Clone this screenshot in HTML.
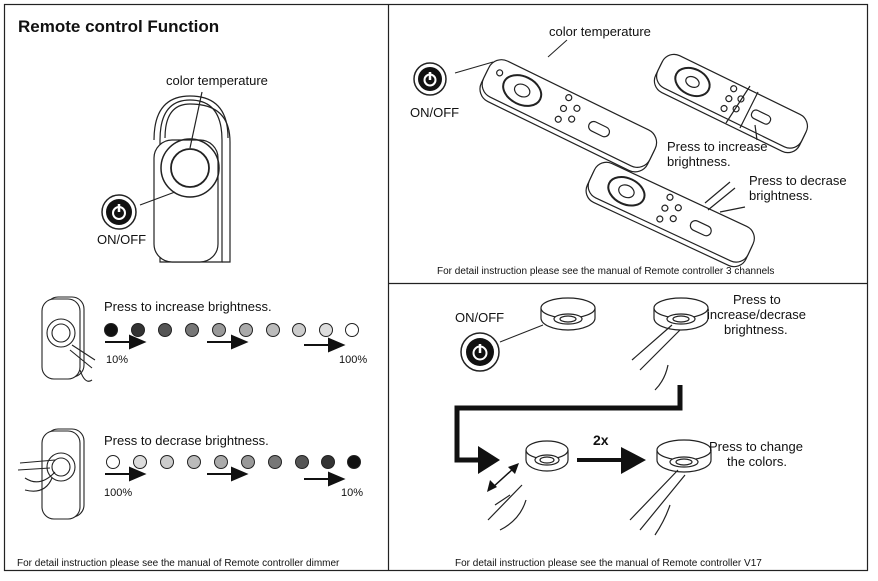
<!DOCTYPE html>
<html><head><meta charset="utf-8"><style>
body{margin:0;background:#fff;width:878px;height:581px;overflow:hidden}
svg{display:block}
text{font-family:"Liberation Sans",Arial,sans-serif;fill:#111}
</style></head><body>
<svg width="878" height="581" viewBox="0 0 878 581">
<rect x="0" y="0" width="878" height="581" fill="#fff"/>
<rect x="4.5" y="4.5" width="863" height="566" fill="none" stroke="#222" stroke-width="1.2"/>
<line x1="388.5" y1="4" x2="388.5" y2="571" stroke="#222" stroke-width="1.2"/>
<line x1="388" y1="283.5" x2="868" y2="283.5" stroke="#222" stroke-width="1.2"/>

<!-- Left top -->
<text x="18" y="32" font-size="17" font-weight="bold">Remote control Function</text>
<text x="166" y="85" font-size="13">color temperature</text>
<g fill="none" stroke="#222" stroke-width="1.2">
<path d="M160 140 Q160 100 190 100 Q222 100 222 140 L222 262 L160 262 Z" fill="#fff"/>
<path d="M165 138 Q165 104 190 104 Q230 104 230 142 L230 262 L222 262"/>
<path d="M154 140 Q154 96 190 96 Q228 96 228 138"/>
<rect x="154" y="140" width="64" height="122" rx="18" fill="#fff"/>
<circle cx="190" cy="168" r="29" stroke-width="1.5"/>
<circle cx="190" cy="168" r="19" stroke-width="1.8"/>
<line x1="202" y1="92" x2="190" y2="148"/>
<line x1="140" y1="205" x2="175" y2="192"/>
</g>
<circle cx="119" cy="212" r="17" fill="#fff" stroke="#222" stroke-width="1.5"/>
<circle cx="119" cy="212" r="13" fill="#111"/>
<circle cx="119" cy="213" r="6" fill="none" stroke="#fff" stroke-width="2"/>
<line x1="119" y1="204" x2="119" y2="212" stroke="#fff" stroke-width="2.5"/>
<text x="97" y="244" font-size="13">ON/OFF</text>

<!-- small remotes -->
<g fill="#fff" stroke="#222" stroke-width="1.1">
<rect x="46" y="297" width="38" height="80" rx="12"/>
<rect x="42" y="299" width="38" height="80" rx="12"/>
<circle cx="61" cy="333" r="14" fill="none"/><circle cx="61" cy="333" r="9" fill="none"/>
<path d="M72 345 L95 360 M70 350 L92 368 M80 370 Q85 385 92 380" fill="none"/>
<rect x="46" y="429" width="38" height="88" rx="12"/>
<rect x="42" y="431" width="38" height="88" rx="12"/>
<circle cx="61" cy="467" r="14" fill="none"/><circle cx="61" cy="467" r="9" fill="none"/>
<path d="M20 463 L55 460 M18 470 L50 468 M25 478 Q40 488 55 472 M25 490 Q45 495 52 478" fill="none"/>
</g>
<text x="104" y="311" font-size="13">Press to increase brightness.</text>
<text x="104" y="445" font-size="13">Press to decrase brightness.</text>
<g stroke="#222" stroke-width="1">
<circle cx="111" cy="330" r="6.5" fill="#111"/><circle cx="138" cy="330" r="6.5" fill="#333"/>
<circle cx="165" cy="330" r="6.5" fill="#555"/><circle cx="192" cy="330" r="6.5" fill="#777"/>
<circle cx="219" cy="330" r="6.5" fill="#999"/><circle cx="246" cy="330" r="6.5" fill="#aaa"/>
<circle cx="273" cy="330" r="6.5" fill="#bbb"/><circle cx="299" cy="330" r="6.5" fill="#ccc"/>
<circle cx="326" cy="330" r="6.5" fill="#ddd"/><circle cx="352" cy="330" r="6.5" fill="#fff"/>
<circle cx="113" cy="462" r="6.5" fill="#fff"/><circle cx="140" cy="462" r="6.5" fill="#ddd"/>
<circle cx="167" cy="462" r="6.5" fill="#ccc"/><circle cx="194" cy="462" r="6.5" fill="#bbb"/>
<circle cx="221" cy="462" r="6.5" fill="#aaa"/><circle cx="248" cy="462" r="6.5" fill="#999"/>
<circle cx="275" cy="462" r="6.5" fill="#777"/><circle cx="302" cy="462" r="6.5" fill="#555"/>
<circle cx="328" cy="462" r="6.5" fill="#333"/><circle cx="354" cy="462" r="6.5" fill="#111"/>
</g>
<g fill="#111" stroke="#111" stroke-width="2">
<line x1="105" y1="342" x2="132" y2="342"/><path d="M130 336 L144 342 L130 348Z"/>
<line x1="207" y1="342" x2="234" y2="342"/><path d="M232 336 L246 342 L232 348Z"/>
<line x1="304" y1="345" x2="331" y2="345"/><path d="M329 339 L343 345 L329 351Z"/>
<line x1="105" y1="474" x2="132" y2="474"/><path d="M130 468 L144 474 L130 480Z"/>
<line x1="207" y1="474" x2="234" y2="474"/><path d="M232 468 L246 474 L232 480Z"/>
<line x1="304" y1="479" x2="331" y2="479"/><path d="M329 473 L343 479 L329 485Z"/>
</g>
<text x="106" y="363" font-size="11">10%</text>
<text x="339" y="363" font-size="11">100%</text>
<text x="104" y="496" font-size="11">100%</text>
<text x="341" y="496" font-size="11">10%</text>
<text x="17" y="566" font-size="10">For detail instruction please see the manual of Remote controller dimmer</text>

<!-- Right top -->
<text x="549" y="36" font-size="13">color temperature</text>
<circle cx="430" cy="79" r="16" fill="#fff" stroke="#222" stroke-width="1.5"/>
<circle cx="430" cy="79" r="12" fill="#111"/>
<circle cx="430" cy="80" r="5.5" fill="none" stroke="#fff" stroke-width="2"/>
<line x1="430" y1="72" x2="430" y2="80" stroke="#fff" stroke-width="2.5"/>
<text x="410" y="117" font-size="13">ON/OFF</text>
<line x1="455" y1="73" x2="493" y2="62" stroke="#222"/>
<line x1="567" y1="40" x2="548" y2="57" stroke="#222"/>
<g fill="#fff" stroke="#222" stroke-width="1.2">
<g transform="translate(495,55) rotate(26)">
<rect x="0" y="3" width="185" height="42" rx="14"/><rect x="0" y="0" width="185" height="40" rx="14"/>
<ellipse cx="40" cy="20" rx="20" ry="14" stroke-width="2"/><ellipse cx="40" cy="20" rx="8" ry="6"/>
<circle cx="12" cy="14" r="3"/><circle cx="85" cy="6" r="3"/><circle cx="85" cy="18" r="3"/><circle cx="85" cy="30" r="3"/><circle cx="97" cy="12" r="3"/><circle cx="97" cy="24" r="3"/><rect x="115" y="16" width="22" height="10" rx="5"/>
</g>
<g transform="translate(668,50) rotate(26)">
<rect x="0" y="3" width="160" height="38" rx="13"/><rect x="0" y="0" width="160" height="36" rx="13"/>
<ellipse cx="36" cy="18" rx="18" ry="13" stroke-width="2"/><ellipse cx="36" cy="18" rx="7" ry="5"/>
<circle cx="76" cy="6" r="3"/><circle cx="76" cy="17" r="3"/><circle cx="76" cy="28" r="3"/><circle cx="87" cy="12" r="3"/><circle cx="87" cy="23" r="3"/><rect x="103" y="15" width="20" height="9" rx="4"/>
</g>
<g transform="translate(600,158) rotate(25)">
<rect x="0" y="3" width="175" height="40" rx="13"/><rect x="0" y="0" width="175" height="38" rx="13"/>
<ellipse cx="38" cy="19" rx="19" ry="13" stroke-width="2"/><ellipse cx="38" cy="19" rx="8" ry="6"/>
<circle cx="80" cy="6" r="3"/><circle cx="80" cy="18" r="3"/><circle cx="80" cy="30" r="3"/><circle cx="92" cy="12" r="3"/><circle cx="92" cy="24" r="3"/><rect x="110" y="16" width="22" height="10" rx="5"/>
</g>
<path d="M726 123 L750 86 M740 128 L758 92 M755 125 L757 140" fill="none"/>
<path d="M705 203 L730 182 M708 210 L735 188 M720 212 L745 207" fill="none"/>
</g>
<text x="667" y="151" font-size="13">Press to increase</text>
<text x="667" y="166" font-size="13">brightness.</text>
<text x="749" y="185" font-size="13">Press to decrase</text>
<text x="749" y="200" font-size="13">brightness.</text>
<text x="437" y="274" font-size="10">For detail instruction please see the manual of Remote controller  3 channels</text>

<!-- Right bottom -->
<text x="455" y="322" font-size="13">ON/OFF</text>
<circle cx="480" cy="352" r="19" fill="#fff" stroke="#222" stroke-width="1.5"/>
<circle cx="480" cy="352" r="14" fill="#111"/>
<circle cx="480" cy="353" r="6.5" fill="none" stroke="#fff" stroke-width="2"/>
<line x1="480" y1="344" x2="480" y2="353" stroke="#fff" stroke-width="2.5"/>
<line x1="500" y1="342" x2="543" y2="325" stroke="#222"/>
<g fill="#fff" stroke="#222" stroke-width="1.2">
<path d="M541 308 L541 318 A27 12 0 0 0 595 318 L595 308"/><ellipse cx="568" cy="308" rx="27" ry="10"/><ellipse cx="568" cy="319" rx="14" ry="5"/><ellipse cx="568" cy="319" rx="8" ry="3"/>
<path d="M654 308 L654 318 A27 12 0 0 0 708 318 L708 308"/><ellipse cx="681" cy="308" rx="27" ry="10"/><ellipse cx="681" cy="319" rx="14" ry="5"/><ellipse cx="681" cy="319" rx="8" ry="3"/>
<path d="M526 450 L526 460 A21 11 0 0 0 568 460 L568 450"/><ellipse cx="547" cy="450" rx="21" ry="9"/><ellipse cx="547" cy="460" rx="12" ry="5"/><ellipse cx="547" cy="460" rx="7" ry="3"/>
<path d="M657 450 L657 460 A27 12 0 0 0 711 460 L711 450"/><ellipse cx="684" cy="450" rx="27" ry="10"/><ellipse cx="684" cy="462" rx="14" ry="5"/><ellipse cx="684" cy="462" rx="8" ry="3"/>
<path d="M632 360 L672 325 M640 370 L680 330 M655 390 Q665 380 668 365" fill="none"/>
<path d="M488 520 L522 485 M500 530 Q520 520 526 500 M495 505 L510 495" fill="none"/>
<path d="M630 520 L678 470 M640 530 L685 475 M655 535 Q665 520 670 505" fill="none"/>
</g>
<line x1="492" y1="488" x2="514" y2="468" stroke="#111" stroke-width="1.5"/>
<path d="M487 492 L490 480 L497 487Z M519 463 L508 467 L515 474Z" fill="#111"/>
<path d="M680 385 L680 408 L457 408 L457 460 L480 460" fill="none" stroke="#111" stroke-width="5"/>
<path d="M478 446 L500 460 L478 474 Z" fill="#111"/>
<line x1="577" y1="460" x2="624" y2="460" stroke="#111" stroke-width="4"/>
<path d="M621 447 L646 460 L621 474Z" fill="#111"/>
<text x="593" y="445" font-size="14" font-weight="bold">2x</text>
<text x="733" y="304" font-size="13">Press to</text>
<text x="707" y="319" font-size="13">increase/decrase</text>
<text x="724" y="334" font-size="13">brightness.</text>
<text x="709" y="451" font-size="13">Press to change</text>
<text x="727" y="466" font-size="13">the colors.</text>
<text x="455" y="566" font-size="10">For detail instruction please see the manual of Remote controller V17</text>
</svg>
</body></html>
